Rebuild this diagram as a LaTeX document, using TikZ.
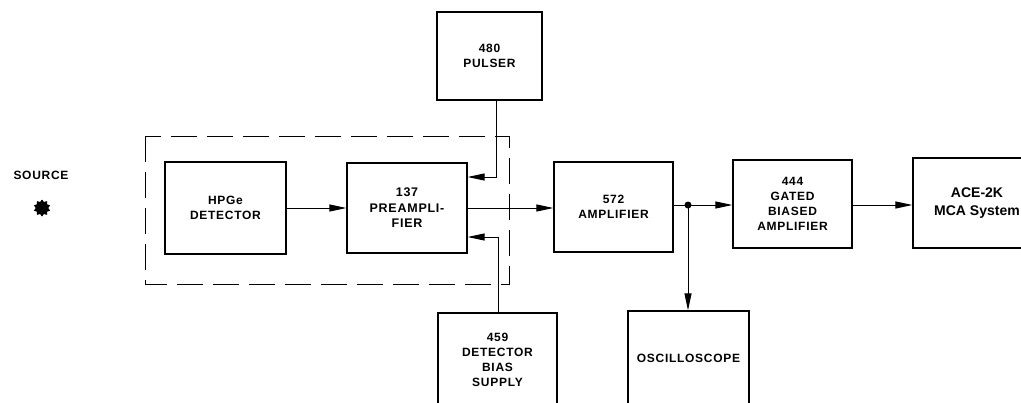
\documentclass[tikz,border=0pt]{standalone}
\usepackage{fontspec}
\setmainfont{Liberation Sans}
\newfontfamily\lbl{Liberation Sans}[LetterSpace=6]
\usetikzlibrary{arrows.meta,shapes.geometric,calc}
\tikzset{
  box/.style={draw, line width=1.2pt, align=center, inner sep=0pt,
    font=\lbl\bfseries\fontsize{12}{15}\selectfont},
  conn/.style={line width=1pt},
  arr/.style={conn, -{Triangle[length=17pt,width=7pt]}},
  dashbox/.style={line width=0.7pt, dash pattern=on 26pt off 10pt}
}
\begin{document}
\begin{tikzpicture}[x=1pt,y=-1pt]
\clip (0,0) rectangle (1021,402);
\fill[white] (0,0) rectangle (1021,402);
% source
\node[font=\lbl\bfseries\fontsize{12}{12}\selectfont] (srclabel) at (41,175) {SOURCE};
\node[star, star points=10, star point ratio=1.35, fill=black, minimum size=17pt, inner sep=0pt] (src) at (42,208) {};
% dashed enclosure
\draw[dashbox] (145,136) rectangle (509,284);
% boxes
\node[box, minimum width=121pt, minimum height=92pt] (det) at (225.5,208) {HPGe\\DETECTOR};
\node[box, minimum width=120pt, minimum height=90pt, font=\lbl\bfseries\fontsize{12.5}{15.5}\selectfont] (pre) at (407,208) {137\\PREAMPLI-\\FIER};
\node[box, minimum width=105pt, minimum height=88pt] (pul) at (489.5,56) {480\\PULSER};
\node[box, minimum width=119pt, minimum height=94pt] (bias) at (497.5,360) {459\\DETECTOR\\BIAS\\SUPPLY};
\node[box, minimum width=119pt, minimum height=90pt] (amp) at (613.5,207) {572\\AMPLIFIER};
\node[box, minimum width=119pt, minimum height=88pt] (gate) at (792.5,204) {444\\GATED\\BIASED\\AMPLIFIER};
\node[box, minimum width=128pt, minimum height=90pt, font=\bfseries\fontsize{14}{18}\selectfont] (ace) at (977,203) {ACE-2K\\MCA System};
\node[box, minimum width=121pt, minimum height=94pt] (osc) at (688.5,358) {OSCILLOSCOPE};
% connectors
\draw[arr] (det.east) -- (det.east -| pre.west);
\coordinate (p1) at (496,177);
\draw[arr] (pul.south -| p1) |- (pre.east |- p1);
\coordinate (b1) at (498,237);
\draw[arr] (bias.north -| b1) |- (pre.east |- b1);
\draw[arr] (pre.east) -- (pre.east -| amp.west);
\coordinate (j) at (688,205);
\draw[conn] (amp.east |- j) -- (j);
\draw[arr] (j) -- (gate.west |- j);
\draw[arr] (j) -- (j |- osc.north);
\fill (j) circle (3.5pt);
\draw[arr] (gate.east |- j) -- (ace.west |- j);
\end{tikzpicture}
\end{document}
